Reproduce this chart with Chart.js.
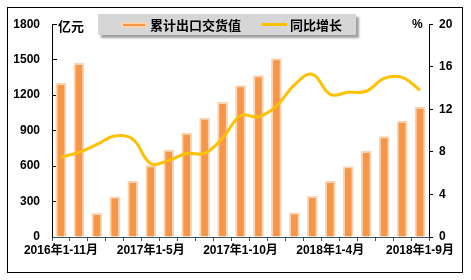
<!DOCTYPE html>
<html>
<head>
<meta charset="utf-8">
<script src="https://cdn.jsdelivr.net/npm/chart.js@4"></script>
<style>
body { margin: 0; background: #fff; }
#wrap { position: relative; width: 471px; height: 280px; }
#frame { position: absolute; left: 7px; top: 7px; width: 454px; height: 264px; border: 1px solid #000; }
#chart { position: absolute; left: 0; top: 0; }
#legend { position: absolute; left: 98px; top: 14px; width: 258px; height: 21px; background: #d6d6d6;
	box-shadow: 3px 3px 2px #a0a0a0; font: bold 13px "Noto Sans CJK SC", sans-serif; color: #000; }
#legend span { position: absolute; top: 2px; line-height: 17px; }
.sw1 { position: absolute; left: 23px; top: 8px; width: 22px; height: 2px; background: #f79646; border: 2px solid #fbd4b4; }
.sw2 { position: absolute; left: 164px; top: 9px; width: 25px; height: 3px; background: #ffc000; }
</style>
</head>
<body>
<div id="wrap">
	<div id="frame"></div>
	<canvas id="chart" width="471" height="280"></canvas>
	<div id="legend">
		<div class="sw1"></div><span style="left:52px">累计出口交货值</span>
		<div class="sw2"></div><span style="left:192px">同比增长</span>
	</div>
</div>
<script>
var categories = ['2016年1-11月','2016年1-12月','2017年1-2月','2017年1-3月','2017年1-4月','2017年1-5月',
	'2017年1-6月','2017年1-7月','2017年1-8月','2017年1-9月','2017年1-10月','2017年1-11月','2017年1-12月',
	'2018年1-2月','2018年1-3月','2018年1-4月','2018年1-5月','2018年1-6月','2018年1-7月','2018年1-8月','2018年1-9月'];
var tickLabels = ['2016年1-11月','2017年1-5月','2017年1-10月','2018年1-4月','2018年1-9月'];
var exportValue = [1300, 1470, 200, 340, 470, 605, 735, 880, 1005, 1140, 1280, 1365, 1510,
	205, 345, 470, 595, 725, 850, 980, 1100];
var growth = [7.5, 7.95, 8.7, 9.5, 9.2, 6.9, 7.2, 7.85, 7.85, 9.3, 11.4, 11.3, 12.3,
	14.3, 15.3, 13.4, 13.6, 13.7, 14.9, 15.0, 13.8];

var tickFont = {family: '"Liberation Sans", Arial, "Noto Sans CJK SC", sans-serif', size: 12, weight: 'bold'};

// unit labels inside the plot corners
var unitText = {
	id: 'unitText',
	afterDraw: function(chart) {
		var ctx = chart.ctx, a = chart.chartArea;
		ctx.save();
		ctx.fillStyle = '#000';
		ctx.font = 'bold 13px "Noto Sans CJK SC", sans-serif';
		ctx.textBaseline = 'middle';
		ctx.textAlign = 'left';
		ctx.fillText('亿元', a.left + 6, 26);
		ctx.font = 'bold 12px "Liberation Sans", Arial, sans-serif';
		ctx.fillText('%', a.right - 17, 25);
		ctx.restore();
	}
};

var ctx = document.getElementById('chart').getContext('2d');
var chart = new Chart(ctx, {
	type: 'bar',
	data: {
		labels: categories,
		datasets: [
		{type: 'line', label: '同比增长', data: growth, yAxisID: 'y1', order: 0,
			borderColor: '#ffc000', borderWidth: 3, pointRadius: 0, tension: 0.4, fill: false},
		{label: '累计出口交货值', data: exportValue, yAxisID: 'y', order: 1,
			backgroundColor: '#f79646', borderColor: '#fbd4b4', borderWidth: 2, barThickness: 10}]
	},
	options: {
		responsive: false,
		animation: false,
		layout: {padding: {top: 18, left: 0, right: 0, bottom: 0}},
		plugins: {legend: {display: false}, tooltip: {enabled: false}},
		scales: {
			x: {
				grid: {drawOnChartArea: false, tickLength: 4, color: '#305a68', offset: true},
				border: {color: '#305a68', width: 1},
				ticks: {
					autoSkip: false, maxRotation: 0, minRotation: 0, color: '#000', font: tickFont, padding: 2,
					callback: function(v, i) { return i % 5 == 0 ? tickLabels[i / 5] : ''; }
				},
				afterFit: function(s) { s.height = 43; }
			},
			y: {
				position: 'left', min: 0, max: 1800,
				grid: {drawOnChartArea: false, tickLength: -5, color: '#000'},
				border: {color: '#000', width: 1},
				ticks: {stepSize: 300, color: '#000', font: tickFont, padding: 17,
					callback: function(v) { return String(v); }},
				afterFit: function(s) { s.width = 52; }
			},
			y1: {
				position: 'right', min: 0, max: 20,
				grid: {drawOnChartArea: false, tickLength: 4, color: '#000'},
				border: {color: '#000', width: 1},
				ticks: {stepSize: 4, color: '#000', font: tickFont, padding: 6},
				afterFit: function(s) { s.width = 42; }
			}
		}
	},
	plugins: [unitText]
});
</script>
</body>
</html>
